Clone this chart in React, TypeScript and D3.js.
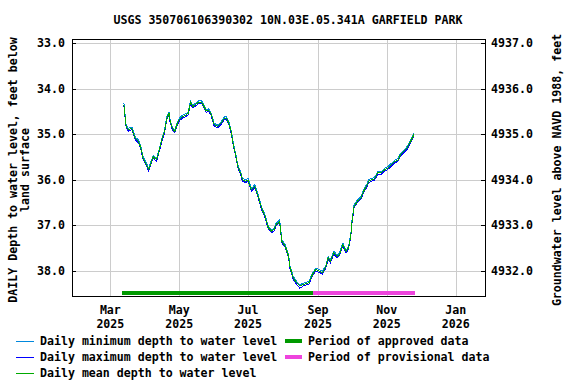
import React from "react";
import * as d3 from "d3";

const TITLE = "USGS 350706106390302 10N.03E.05.341A GARFIELD PARK";
const LEFT_TITLE_1 = "DAILY Depth to water level, feet below";
const LEFT_TITLE_2 = "land surface";
const RIGHT_TITLE = "Groundwater level above NAVD 1988, feet";

const dates = [
  "2025-03-13", "2025-03-15", "2025-03-17", "2025-03-20", "2025-03-21", "2025-03-23", "2025-03-26", "2025-03-28", "2025-03-30",
  "2025-04-02", "2025-04-04", "2025-04-06", "2025-04-08", "2025-04-09", "2025-04-11", "2025-04-13", "2025-04-16", "2025-04-18", "2025-04-20", "2025-04-22", "2025-04-23", "2025-04-25", "2025-04-27", "2025-04-29",
  "2025-05-01", "2025-05-04", "2025-05-07", "2025-05-09", "2025-05-11", "2025-05-13", "2025-05-15", "2025-05-18", "2025-05-21", "2025-05-23", "2025-05-25", "2025-05-27", "2025-05-29",
  "2025-06-01", "2025-06-04", "2025-06-07", "2025-06-10", "2025-06-12", "2025-06-14", "2025-06-16", "2025-06-18", "2025-06-20", "2025-06-22", "2025-06-25", "2025-06-26", "2025-06-29",
  "2025-07-01", "2025-07-04", "2025-07-07", "2025-07-10", "2025-07-13", "2025-07-16", "2025-07-19", "2025-07-22", "2025-07-24", "2025-07-26", "2025-07-29", "2025-07-31",
  "2025-08-03", "2025-08-06", "2025-08-07", "2025-08-10", "2025-08-13", "2025-08-16", "2025-08-19", "2025-08-24", "2025-08-27", "2025-08-30",
  "2025-09-02", "2025-09-05", "2025-09-08", "2025-09-10", "2025-09-12", "2025-09-15", "2025-09-18", "2025-09-20", "2025-09-23", "2025-09-25", "2025-09-26", "2025-09-28", "2025-09-30",
  "2025-10-01", "2025-10-03", "2025-10-06", "2025-10-09", "2025-10-12", "2025-10-14", "2025-10-16", "2025-10-18", "2025-10-21", "2025-10-24", "2025-10-27", "2025-10-30",
  "2025-11-02", "2025-11-05", "2025-11-08", "2025-11-11", "2025-11-13", "2025-11-16", "2025-11-19", "2025-11-22", "2025-11-25",
];

const meanDepth = [
  34.36, 34.83, 34.90, 34.87, 34.94, 35.09, 35.16, 35.30, 35.52,
  35.67, 35.78, 35.63, 35.49, 35.52, 35.56, 35.38, 35.09, 34.94, 34.65, 34.54, 34.72, 34.87, 34.94, 34.79,
  34.68, 34.61, 34.58, 34.54, 34.30, 34.39, 34.36, 34.30, 34.30, 34.39, 34.49, 34.47, 34.54,
  34.79, 34.83, 34.76, 34.65, 34.65, 34.76, 34.94, 35.23, 35.45, 35.71, 35.89, 36.00, 36.03,
  36.00, 36.22, 36.14, 36.36, 36.62, 36.80, 37.05, 37.13, 37.09, 36.98, 36.91, 37.35,
  37.46, 37.68, 37.90, 38.15, 38.26, 38.33, 38.30, 38.26, 38.08, 37.97,
  38.00, 38.04, 37.90, 37.71, 37.79, 37.60, 37.68, 37.64, 37.42, 37.53, 37.57, 37.49, 37.24,
  36.95, 36.58, 36.47, 36.40, 36.22, 36.14, 36.03, 36.00, 35.98, 35.85, 35.85, 35.78,
  35.74, 35.67, 35.60, 35.56, 35.45, 35.38, 35.30, 35.16, 35.01,
];

const minDepth = [
  34.31, 34.80, 34.87, 34.84, 34.91, 35.06, 35.13, 35.27, 35.49,
  35.64, 35.75, 35.60, 35.46, 35.49, 35.53, 35.35, 35.06, 34.91, 34.62, 34.51, 34.69, 34.84, 34.91, 34.76,
  34.65, 34.58, 34.55, 34.51, 34.27, 34.36, 34.33, 34.27, 34.27, 34.36, 34.46, 34.44, 34.51,
  34.76, 34.80, 34.73, 34.62, 34.62, 34.73, 34.91, 35.20, 35.42, 35.68, 35.86, 35.97, 36.00,
  35.97, 36.19, 36.11, 36.33, 36.59, 36.77, 37.02, 37.10, 37.06, 36.95, 36.88, 37.32,
  37.43, 37.65, 37.87, 38.12, 38.23, 38.30, 38.27, 38.23, 38.05, 37.94,
  37.97, 38.01, 37.87, 37.68, 37.76, 37.57, 37.65, 37.61, 37.39, 37.50, 37.54, 37.46, 37.21,
  36.92, 36.55, 36.44, 36.37, 36.19, 36.11, 36.00, 35.97, 35.95, 35.82, 35.82, 35.75,
  35.71, 35.64, 35.57, 35.53, 35.42, 35.35, 35.27, 35.13, 34.98,
];

const maxDepth = [
  34.39, 34.86, 34.93, 34.90, 34.97, 35.12, 35.19, 35.33, 35.55,
  35.70, 35.81, 35.66, 35.52, 35.55, 35.59, 35.41, 35.12, 34.97, 34.68, 34.57, 34.75, 34.90, 34.97, 34.82,
  34.71, 34.64, 34.61, 34.57, 34.33, 34.42, 34.39, 34.33, 34.33, 34.42, 34.52, 34.50, 34.57,
  34.82, 34.86, 34.79, 34.68, 34.68, 34.79, 34.97, 35.26, 35.48, 35.74, 35.92, 36.03, 36.06,
  36.03, 36.25, 36.17, 36.39, 36.65, 36.83, 37.08, 37.16, 37.12, 37.01, 36.94, 37.38,
  37.49, 37.71, 37.93, 38.18, 38.29, 38.38, 38.33, 38.29, 38.11, 38.00,
  38.03, 38.07, 37.93, 37.74, 37.82, 37.63, 37.71, 37.67, 37.45, 37.56, 37.60, 37.52, 37.27,
  36.98, 36.61, 36.50, 36.43, 36.25, 36.17, 36.06, 36.03, 36.01, 35.88, 35.88, 35.81,
  35.77, 35.70, 35.63, 35.59, 35.48, 35.41, 35.33, 35.19, 35.04,
];

const depthTicks = [33, 34, 35, 36, 37, 38];
const elevationOffset = 4970; // elevation = offset - depth
const monthTicks = ["2025-03-01", "2025-05-01", "2025-07-01", "2025-09-01", "2025-11-01", "2026-01-01"];
const monthLabels = ["Mar", "May", "Jul", "Sep", "Nov", "Jan"];
const yearLabels = ["2025", "2025", "2025", "2025", "2025", "2026"];

const approvedPeriod = ["2025-03-11", "2025-08-28"];
const provisionalPeriod = ["2025-08-28", "2025-11-26"];
const xDomain = ["2025-01-26", "2026-01-27"];
const yDomain = [32.91, 38.55];

const FONT = "'DejaVu Sans Mono', monospace";
const C_MIN = "#0088dd";
const C_MAX = "#0000ff";
const C_MEAN = "#00aa00";
const C_APPROVED = "#009900";
const C_PROV = "#ee44dd";
const GRID = "#cccccc";

const parse = (s: string) => new Date(s + "T00:00:00Z");

export default function App() {
  const left = 72, right = 485, top = 39, bottom = 296;
  const x = d3.scaleUtc().domain(xDomain.map(parse)).range([left, right]);
  const y = d3.scaleLinear().domain(yDomain).range([top, bottom]);

  const mk = (vals: number[]) =>
    d3.line<number>()
      .x((_, i) => x(parse(dates[i])))
      .y((v) => y(v))(vals) || "";

  const barY = 293;
  const fs = 11.6;

  return (
    <svg width={576} height={384} style={{ position: "absolute", left: 0, top: 0, background: "#fff" }}
      fontFamily={FONT} fontWeight="bold" fontSize={fs}>
      <rect x={0} y={0} width={576} height={384} fill="#fff" />
      <text x={288} y={24} textAnchor="middle">{TITLE}</text>

      {/* grid */}
      {depthTicks.map((d) => (
        <line key={"hg" + d} x1={left} x2={right} y1={Math.round(y(d)) + 0.5} y2={Math.round(y(d)) + 0.5} stroke={GRID} strokeWidth={1} />
      ))}
      {monthTicks.map((m) => (
        <line key={"vg" + m} x1={Math.round(x(parse(m))) + 0.5} x2={Math.round(x(parse(m))) + 0.5} y1={top} y2={bottom} stroke={GRID} strokeWidth={1} />
      ))}

      {/* ticks */}
      {depthTicks.map((d) => (
        <g key={"t" + d}>
          <line x1={left} x2={left + 4} y1={Math.round(y(d)) + 0.5} y2={Math.round(y(d)) + 0.5} stroke="#000" />
          <line x1={right - 4} x2={right} y1={Math.round(y(d)) + 0.5} y2={Math.round(y(d)) + 0.5} stroke="#000" />
          <text x={65} y={y(d)} textAnchor="end" dominantBaseline="central">{d.toFixed(1)}</text>
          <text x={491} y={y(d)} textAnchor="start" dominantBaseline="central">{(elevationOffset - d).toFixed(1)}</text>
        </g>
      ))}
      {monthTicks.map((m, i) => (
        <g key={"xl" + m}>
          <text x={x(parse(m))} y={314} textAnchor="middle">{monthLabels[i]}</text>
          <text x={x(parse(m))} y={328} textAnchor="middle">{yearLabels[i]}</text>
        </g>
      ))}

      {/* period bars */}
      <line x1={x(parse(approvedPeriod[0]))} x2={x(parse(approvedPeriod[1]))} y1={barY} y2={barY} stroke={C_APPROVED} strokeWidth={4} shapeRendering="crispEdges" />
      <line x1={x(parse(provisionalPeriod[0]))} x2={x(parse(provisionalPeriod[1]))} y1={barY} y2={barY} stroke={C_PROV} strokeWidth={4} shapeRendering="crispEdges" />

      {/* series */}
      <path d={mk(minDepth)} fill="none" stroke={C_MIN} strokeWidth={1} shapeRendering="crispEdges" />
      <path d={mk(maxDepth)} fill="none" stroke={C_MAX} strokeWidth={1} shapeRendering="crispEdges" />
      <path d={mk(meanDepth)} fill="none" stroke={C_MEAN} strokeWidth={1} shapeRendering="crispEdges" />

      {/* frame */}
      <rect x={left + 0.5} y={top + 0.5} width={right - left} height={bottom - top} fill="none" stroke="#000" strokeWidth={1} />

      {/* axis titles */}
      <text transform={`translate(13,170) rotate(-90)`} textAnchor="middle" dominantBaseline="central">{LEFT_TITLE_1}</text>
      <text transform={`translate(25,170) rotate(-90)`} textAnchor="middle" dominantBaseline="central">{LEFT_TITLE_2}</text>
      <text transform={`translate(557,170) rotate(-90)`} textAnchor="middle" dominantBaseline="central">{RIGHT_TITLE}</text>

      {/* legend */}
      <g>
        <rect x={16} y={341} width={18} height={1} fill={C_MIN} />
        <text x={40} y={341} dominantBaseline="central">Daily minimum depth to water level</text>
        <rect x={16} y={357} width={18} height={1} fill={C_MAX} />
        <text x={40} y={357} dominantBaseline="central">Daily maximum depth to water level</text>
        <rect x={16} y={373} width={18} height={1} fill={C_MEAN} />
        <text x={40} y={373} dominantBaseline="central">Daily mean depth to water level</text>
        <rect x={285} y={339} width={17} height={4} fill={C_APPROVED} />
        <text x={308} y={341} dominantBaseline="central">Period of approved data</text>
        <rect x={285} y={355} width={17} height={4} fill={C_PROV} />
        <text x={308} y={357} dominantBaseline="central">Period of provisional data</text>
      </g>
    </svg>
  );
}
